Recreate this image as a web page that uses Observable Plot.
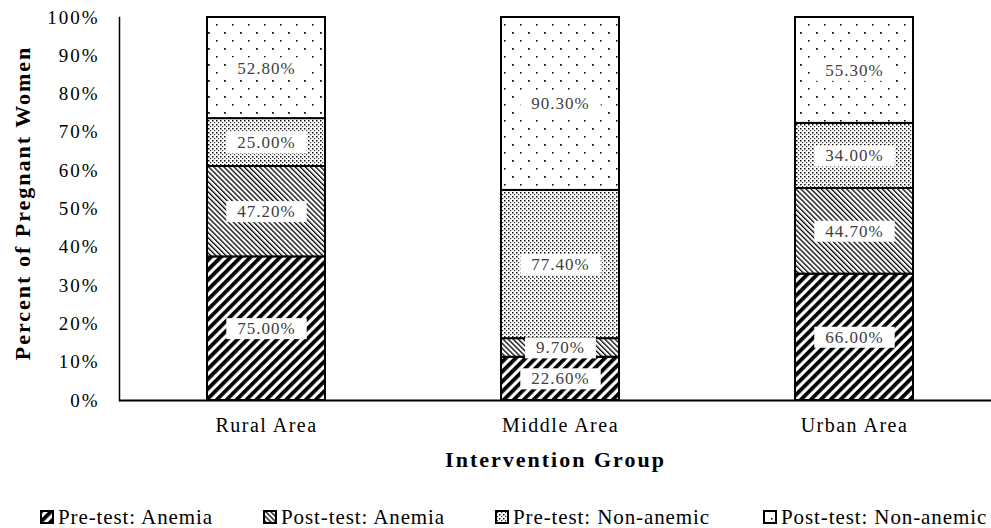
<!DOCTYPE html>
<html>
<head>
<meta charset="utf-8">
<script src="https://cdn.jsdelivr.net/npm/d3@7"></script>
<script src="https://cdn.jsdelivr.net/npm/@observablehq/plot@0.6"></script>
<style>
  html, body { margin: 0; padding: 0; background: white; }
  #wrap { width: 991px; height: 528px; position: relative; font-family: "Liberation Serif", "Times New Roman", serif; overflow: hidden; }
  g[aria-label="y-axis tick label"] text { letter-spacing: 2px; }
  g[aria-label="x-axis tick label"] text { letter-spacing: 1.5px; }
  g[fill="#404040"] text { letter-spacing: 1px; }
  g[font-weight="bold"] text { letter-spacing: 2px; }
  #legend { display: flex; align-items: center; padding-left: 40px; height: 54px; font-size: 21px; letter-spacing: 0.9px; color: black; }
  #legend .item { display: flex; align-items: center; white-space: nowrap; flex: none; }
  #legend .item:nth-child(1) { width: 223px; }
  #legend .item:nth-child(2) { width: 232px; }
  #legend .item:nth-child(3) { width: 268px; }
  #legend .item span { margin-left: 4px; }
</style>
</head>
<body>
<svg width="0" height="0" style="position:absolute">
  <defs>
    <pattern id="pA" patternUnits="userSpaceOnUse" width="7" height="7" patternTransform="rotate(45)">
      <rect width="7" height="7" fill="white"/>
      <rect x="0" y="0" width="3.8" height="7" fill="black"/>
    </pattern>
    <pattern id="pB" patternUnits="userSpaceOnUse" width="3.6" height="3.6" patternTransform="rotate(-45)">
      <rect width="3.6" height="3.6" fill="white"/>
      <rect x="0" y="0" width="1.3" height="3.6" fill="black"/>
    </pattern>
    <pattern id="pC" patternUnits="userSpaceOnUse" width="4" height="4">
      <rect width="4" height="4" fill="white"/>
      <rect x="0" y="0" width="1.5" height="1.5" fill="#111"/>
      <rect x="2" y="2" width="1.2" height="1.2" fill="#333"/>
    </pattern>
    <pattern id="pD" patternUnits="userSpaceOnUse" width="16" height="16">
      <rect width="16" height="16" fill="white"/>
      <rect x="0" y="0" width="1.8" height="1.8" fill="#111"/>
      <rect x="8" y="8" width="1.6" height="1.6" fill="#111"/>
    </pattern>
  </defs>
</svg>
<div id="wrap"></div>
<script>
// ---- data ----
const groups = ["Rural Area", "Middle Area", "Urban Area"];
const seriesNames = ["Pre-test: Anemia", "Post-test: Anemia", "Pre-test: Non-anemic", "Post-test: Non-anemic"];
const preAnemia = [75.0, 22.6, 66.0];
const postAnemia = [47.2, 9.7, 44.7];
const preNonAnemic = [25.0, 77.4, 34.0];
const postNonAnemic = [52.8, 90.3, 55.3];
const yTicks = [0, 0.1, 0.2, 0.3, 0.4, 0.5, 0.6, 0.7, 0.8, 0.9, 1.0];
const patternFills = ["url(#pA)", "url(#pB)", "url(#pC)", "url(#pD)"];

const seriesValues = [preAnemia, postAnemia, preNonAnemic, postNonAnemic];
const data = [];
seriesNames.forEach((s, si) => {
  groups.forEach((g, gi) => data.push({group: g, series: s, value: seriesValues[si][gi]}));
});
const fmt = v => d3.format(".2f")(v) + "%";

const stackOpts = {x: "group", y: "value", offset: "normalize", order: seriesNames};

const chart = Plot.plot({
  width: 991,
  height: 490,
  marginLeft: 119,
  marginRight: 0,
  marginTop: 17,
  marginBottom: 90,
  style: {fontFamily: "Liberation Serif, Times New Roman, serif", background: "white", color: "black", overflow: "visible"},
  x: {domain: groups, range: [119, 1001], paddingInner: 0.6, paddingOuter: 0.3, label: null},
  y: {domain: [0, 1], label: null},
  color: {domain: seriesNames, range: patternFills},
  marks: [
    Plot.barY(data, Plot.stackY({...stackOpts, fill: "series", stroke: "black", strokeWidth: 2})),
    Plot.text(data, Plot.stackY({...stackOpts, z: "series", text: d => fmt(d.value), fill: "#404040", fontSize: 17})),
    Plot.axisY({ticks: yTicks, tickFormat: d3.format(".0%"), tickSize: 0, tickPadding: 20, fontSize: 19, label: null}),
    Plot.axisX({tickSize: 0, tickPadding: 17, fontSize: 20, label: null}),
    Plot.frame({anchor: "left", stroke: "black", strokeWidth: 1.5}),
    Plot.ruleY([0], {stroke: "black", strokeWidth: 2}),
    Plot.text(["Intervention Group"], {frameAnchor: "bottom", dy: 66, fontSize: 22, fontWeight: "bold", fill: "black"}),
    Plot.text(["Percent of Pregnant Women"], {frameAnchor: "left", textAnchor: "middle", rotate: -90, dx: -97, dy: -6, fontSize: 22, fontWeight: "bold", fill: "black"})
  ]
});

const wrap = document.getElementById("wrap");
wrap.append(chart);

// white boxes behind segment labels
const ns = "http://www.w3.org/2000/svg";
chart.querySelectorAll('g[fill="#404040"] text').forEach(t => {
  const b = t.getBBox();
  const r = document.createElementNS(ns, "rect");
  r.setAttribute("x", b.x - 11);
  r.setAttribute("y", b.y - 1);
  r.setAttribute("width", b.width + 22);
  r.setAttribute("height", b.height + 2);
  r.setAttribute("fill", "white");
  r.setAttribute("stroke", "none");
  if (t.getAttribute("transform")) r.setAttribute("transform", t.getAttribute("transform"));
  t.parentNode.insertBefore(r, t);
});

// legend
const legend = document.createElement("div");
legend.id = "legend";
seriesNames.forEach((s, i) => {
  const item = document.createElement("div");
  item.className = "item";
  item.innerHTML = `<svg width="14" height="14"><rect x="1" y="1" width="12" height="12" fill="${patternFills[i]}" stroke="black" stroke-width="2"/></svg><span>${s}</span>`;
  legend.append(item);
});
wrap.append(legend);
</script>
</body>
</html>
